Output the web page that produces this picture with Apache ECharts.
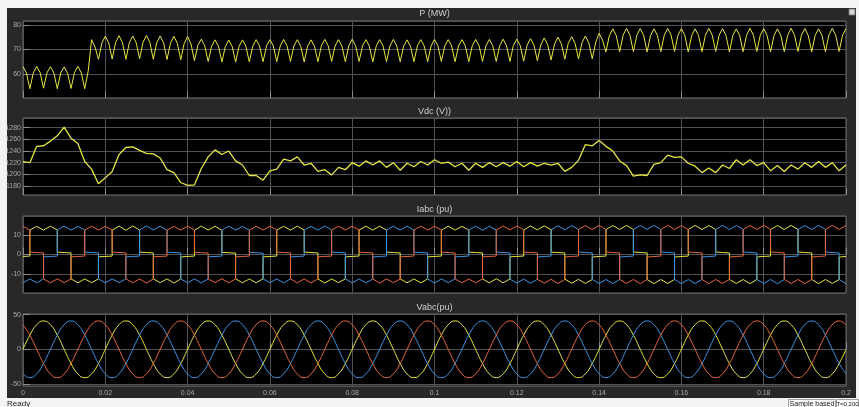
<!DOCTYPE html>
<html>
<head>
<meta charset="utf-8">
<script src="https://cdn.jsdelivr.net/npm/echarts@6.0.0/dist/echarts.min.js"></script>
<style>
html, body { margin: 0; padding: 0; background: #f3f3f3; }
#chart { width: 859px; height: 407px; }
</style>
</head>
<body>
<div id="chart"></div>
<script>
// sample steps (s)
var pStep = 1 / 1200;
var vdcStep = 1 / 600;
var vabcStep = 1 / 600;
var iUnit = 1 / 1200;

// P (MW), one sample every 1/1200 s
var pMW = [
  63, 60.4, 54, 60.4, 63.1, 60.5, 54.2, 60.5, 63, 60.4, 54, 60.4, 62.9, 60.3, 54.1, 60.5, 63.1, 60.5, 54, 61, 74, 71, 66, 72.6,
  75.4, 72.7, 66.1, 72.8, 75.6, 72.8, 66, 72.7, 75.5, 72.8, 66.2, 72.9, 75.7, 72.8, 66, 72.7, 75.5, 72.6, 65.9, 72.6, 75.4, 72.5, 65.8, 72.4,
  75.3, 72.2, 65.4, 71.7, 74.2, 71.5, 65.1, 71.3, 73.9, 71.3, 64.9, 71.2, 73.8, 71.2, 64.8, 71.3, 73.9, 71.3, 64.9, 71.3, 74, 71.4, 65, 71.4,
  74, 71.4, 65, 71.4, 74.1, 71.5, 65.1, 71.4, 74, 71.3, 64.9, 71.3, 73.9, 71.3, 65, 71.4, 74.1, 71.5, 65.1, 71.4, 74, 71.4, 65, 71.4,
  74.2, 71.5, 65.1, 71.4, 74, 71.3, 64.9, 71.3, 74, 71.4, 65, 71.4, 74.1, 71.4, 65, 71.3, 73.9, 71.3, 65, 71.4, 74, 71.4, 65, 71.4,
  74.1, 71.5, 65.1, 71.4, 74, 71.4, 65, 71.4, 74, 71.4, 65, 71.5, 74.1, 71.5, 65.1, 71.5, 74.1, 71.5, 65.1, 71.5, 74.2, 71.6, 65.1, 71.6,
  74.2, 71.6, 65.2, 71.7, 74.4, 71.8, 65.4, 71.9, 74.7, 72, 65.7, 72.2, 75, 72.3, 66, 72.5, 75.2, 72.5, 66.1, 72.7, 75.5, 72.7, 66.2, 72.8,
  76.6, 73.8, 69, 75.7, 78.4, 75.7, 69.1, 75.8, 78.6, 75.8, 69.2, 75.8, 78.5, 75.7, 69, 75.7, 78.4, 75.7, 69.1, 75.8, 78.6, 75.8, 69.2, 75.8,
  78.5, 75.7, 69, 75.7, 78.4, 75.7, 69.1, 75.8, 78.6, 75.8, 69.2, 75.8, 78.5, 75.7, 69, 75.7, 78.4, 75.7, 69.1, 75.8, 78.6, 75.8, 69.2, 75.8,
  78.5, 75.7, 69, 75.7, 78.4, 75.7, 69.1, 75.8, 78.6, 75.8, 69.2, 75.8, 78.5, 75.7, 69, 75.7, 78.4, 75.7, 69.1, 75.8, 78.6, 75.8, 69.2, 75.8,
  78.5
];

// Vdc (V), one sample every 1/600 s
var vdc = [
  1222, 1220, 1248, 1249, 1257, 1266, 1281, 1262, 1253, 1222, 1209, 1184,
  1194, 1205, 1234, 1246, 1247, 1241, 1236, 1235, 1228, 1208, 1203, 1186,
  1181, 1182, 1210, 1230, 1242, 1234, 1240, 1223, 1216, 1198, 1198, 1190,
  1206, 1209, 1226, 1223, 1230, 1216, 1219, 1205, 1208, 1199, 1212, 1208,
  1220, 1214, 1223, 1216, 1223, 1212, 1220, 1207, 1219, 1213, 1222, 1216,
  1225, 1219, 1221, 1213, 1219, 1207, 1219, 1212, 1220, 1213, 1220, 1214,
  1222, 1213, 1220, 1214, 1219, 1216, 1219, 1205, 1212, 1224, 1251, 1249,
  1258, 1248, 1240, 1223, 1215, 1197, 1199, 1198, 1217, 1220, 1233, 1229,
  1230, 1219, 1214, 1203, 1211, 1203, 1216, 1210, 1225, 1216, 1225, 1215,
  1220, 1206, 1215, 1205, 1216, 1209, 1220, 1212, 1222, 1212, 1220, 1206,
  1216
];

// Iabc sample times in 1/1200 s (repeated index = vertical step)
var iTick = [
  0,
  2, 2, 4, 6, 6, 8, 10, 10, 12, 14, 14, 16, 18, 18, 20, 22, 22, 24,
  26, 26, 28, 30, 30, 32, 34, 34, 36, 38, 38, 40, 42, 42, 44, 46, 46, 48,
  50, 50, 52, 54, 54, 56, 58, 58, 60, 62, 62, 64, 66, 66, 68, 70, 70, 72,
  74, 74, 76, 78, 78, 80, 82, 82, 84, 86, 86, 88, 90, 90, 92, 94, 94, 96,
  98, 98, 100, 102, 102, 104, 106, 106, 108, 110, 110, 112, 114, 114, 116, 118, 118, 120,
  122, 122, 124, 126, 126, 128, 130, 130, 132, 134, 134, 136, 138, 138, 140, 142, 142, 144,
  146, 146, 148, 150, 150, 152, 154, 154, 156, 158, 158, 160, 162, 162, 164, 166, 166, 168,
  170, 170, 172, 174, 174, 176, 178, 178, 180, 182, 182, 184, 186, 186, 188, 190, 190, 192,
  194, 194, 196, 198, 198, 200, 202, 202, 204, 206, 206, 208, 210, 210, 212, 214, 214, 216,
  218, 218, 220, 222, 222, 224, 226, 226, 228, 230, 230, 232, 234, 234, 236, 238, 238, 240
];

var iYellow = [
  -1.0,
  -0.8, 12.5, 14.4, 12.5, 12.5, 14.5, 12.5, 1.2, 1.0, 0.8, -12.5, -14.5, -12.5, -12.4, -14.4, -12.5, -1.2, -1.0,
  -0.8, 12.5, 14.5, 12.4, 12.4, 14.6, 12.5, 1.2, 1.0, 0.8, -12.5, -14.4, -12.5, -12.5, -14.6, -12.5, -1.3, -1.0,
  -0.8, 12.4, 14.5, 12.5, 12.5, 14.4, 12.4, 1.1, 0.9, 0.7, -12.4, -14.5, -12.5, -12.5, -14.5, -12.4, -1.2, -1.0,
  -0.8, 12.5, 14.4, 12.5, 12.5, 14.5, 12.5, 1.2, 1.0, 0.8, -12.5, -14.6, -12.5, -12.5, -14.4, -12.5, -1.2, -1.0,
  -0.8, 12.5, 14.5, 12.5, 12.5, 14.5, 12.5, 1.2, 1.0, 0.8, -12.5, -14.5, -12.5, -12.5, -14.5, -12.5, -1.2, -1.0,
  -0.8, 12.4, 14.5, 12.5, 12.5, 14.4, 12.5, 1.2, 1.0, 0.8, -12.5, -14.5, -12.4, -12.4, -14.5, -12.5, -1.2, -1.0,
  -0.8, 12.5, 14.6, 12.6, 12.6, 14.7, 12.7, 1.2, 1.0, 0.8, -12.6, -14.7, -12.7, -12.7, -14.8, -12.8, -1.3, -1.0,
  -0.8, 12.8, 14.8, 12.8, 12.8, 14.9, 12.8, 1.3, 1.0, 0.8, -12.8, -14.9, -12.8, -12.8, -14.8, -12.8, -1.3, -1.0,
  -0.8, 12.8, 14.9, 12.8, 12.8, 14.8, 12.8, 1.3, 1.0, 0.8, -12.8, -14.8, -12.8, -12.8, -14.9, -12.8, -1.3, -1.0,
  -0.8, 12.8, 14.8, 12.8, 12.8, 14.9, 12.8, 1.3, 1.0, 0.8, -12.8, -14.9, -12.8, -12.8, -14.8, -12.8, -1.3, -1.0
];

var iRed = [
  14.5,
  12.5, 1.2, 1.0, 0.8, -12.5, -14.5, -12.5, -12.5, -14.4, -12.5, -1.2, -1.0, -0.8, 12.5, 14.5, 12.5, 12.5, 14.4,
  12.5, 1.2, 1.0, 0.8, -12.4, -14.5, -12.5, -12.5, -14.6, -12.5, -1.2, -1.0, -0.8, 12.5, 14.4, 12.5, 12.4, 14.5,
  12.5, 1.1, 0.9, 0.7, -12.5, -14.4, -12.4, -12.4, -14.5, -12.5, -1.2, -1.0, -0.8, 12.4, 14.5, 12.5, 12.5, 14.5,
  12.5, 1.2, 1.0, 0.8, -12.5, -14.5, -12.5, -12.5, -14.5, -12.5, -1.2, -1.0, -0.8, 12.5, 14.5, 12.5, 12.5, 14.4,
  12.5, 1.2, 1.0, 0.8, -12.5, -14.6, -12.5, -12.5, -14.4, -12.5, -1.2, -1.0, -0.8, 12.5, 14.5, 12.5, 12.5, 14.5,
  12.5, 1.2, 1.0, 0.8, -12.5, -14.5, -12.5, -12.5, -14.5, -12.5, -1.2, -1.0, -0.8, 12.5, 14.6, 12.6, 12.6, 14.6,
  12.6, 1.2, 1.0, 0.8, -12.7, -14.7, -12.7, -12.7, -14.8, -12.8, -1.3, -1.0, -0.8, 12.8, 14.8, 12.8, 12.8, 14.9,
  12.8, 1.3, 1.0, 0.8, -12.8, -14.8, -12.8, -12.8, -14.9, -12.8, -1.3, -1.0, -0.8, 12.8, 14.9, 12.8, 12.8, 14.8,
  12.8, 1.3, 1.0, 0.8, -12.8, -14.9, -12.8, -12.8, -14.8, -12.8, -1.3, -1.0, -0.8, 12.8, 14.8, 12.8, 12.8, 14.9,
  12.8, 1.3, 1.0, 0.8, -12.8, -14.8, -12.8, -12.8, -14.9, -12.8, -1.3, -1.0, -0.8, 12.8, 14.9, 12.8, 12.8, 14.8
];

var iBlue = [
  -14.5,
  -12.5, -12.5, -14.5, -12.5, -1.2, -1.0, -0.8, 12.5, 14.5, 12.5, 12.5, 14.4, 12.5, 1.2, 1.0, 0.8, -12.5, -14.5,
  -12.5, -12.5, -14.4, -12.5, -1.2, -1.0, -0.8, 12.5, 14.6, 12.5, 12.5, 14.5, 12.4, 1.2, 1.0, 0.8, -12.5, -14.5,
  -12.5, -12.4, -14.5, -12.5, -1.2, -1.0, -0.8, 12.4, 14.5, 12.5, 12.5, 14.4, 12.5, 1.1, 0.9, 0.7, -12.5, -14.4,
  -12.5, -12.5, -14.5, -12.5, -1.2, -1.0, -0.8, 12.5, 14.4, 12.5, 12.5, 14.6, 12.5, 1.2, 1.0, 0.8, -12.5, -14.5,
  -12.5, -12.5, -14.5, -12.5, -1.2, -1.0, -0.8, 12.5, 14.5, 12.5, 12.5, 14.5, 12.5, 1.2, 1.0, 0.8, -12.5, -14.6,
  -12.5, -12.5, -14.4, -12.5, -1.2, -1.0, -0.8, 12.5, 14.5, 12.4, 12.4, 14.5, 12.5, 1.2, 1.0, 0.8, -12.6, -14.6,
  -12.6, -12.6, -14.7, -12.7, -1.3, -1.0, -0.8, 12.6, 14.7, 12.7, 12.7, 14.8, 12.8, 1.3, 1.0, 0.8, -12.8, -14.8,
  -12.8, -12.8, -14.9, -12.8, -1.3, -1.0, -0.8, 12.8, 14.8, 12.8, 12.8, 14.9, 12.8, 1.3, 1.0, 0.8, -12.8, -14.9,
  -12.8, -12.8, -14.8, -12.8, -1.3, -1.0, -0.8, 12.8, 14.9, 12.8, 12.8, 14.8, 12.8, 1.3, 1.0, 0.8, -12.8, -14.8,
  -12.8, -12.8, -14.9, -12.8, -1.3, -1.0, -0.8, 12.8, 14.8, 12.8, 12.8, 14.9, 12.8, 1.3, 1.0, 0.8, -12.8, -14.9
];

// Vabc (pu), one sample every 1/600 s
var vYellow = [
  0, 20.5, 35.5, 41, 35.5, 20.5, 0, -20.5, -35.5, -41, -35.5, -20.5,
  0, 20.5, 35.5, 41, 35.5, 20.5, 0, -20.5, -35.5, -41, -35.5, -20.5,
  0, 20.5, 35.5, 41, 35.5, 20.5, 0, -20.5, -35.5, -41, -35.5, -20.5,
  0, 20.5, 35.5, 41, 35.5, 20.5, 0, -20.5, -35.5, -41, -35.5, -20.5,
  0, 20.5, 35.5, 41, 35.5, 20.5, 0, -20.5, -35.5, -41, -35.5, -20.5,
  0, 20.5, 35.5, 41, 35.5, 20.5, 0, -20.5, -35.5, -41, -35.5, -20.5,
  0, 20.5, 35.5, 41, 35.5, 20.5, 0, -20.5, -35.5, -41, -35.5, -20.5,
  0, 20.5, 35.5, 41, 35.5, 20.5, 0, -20.5, -35.5, -41, -35.5, -20.5,
  0, 20.5, 35.5, 41, 35.5, 20.5, 0, -20.5, -35.5, -41, -35.5, -20.5,
  0, 20.5, 35.5, 41, 35.5, 20.5, 0, -20.5, -35.5, -41, -35.5, -20.5,
  0
];
var vRed = [
  35.5, 20.5, 0, -20.5, -35.5, -41, -35.5, -20.5, 0, 20.5, 35.5, 41,
  35.5, 20.5, 0, -20.5, -35.5, -41, -35.5, -20.5, 0, 20.5, 35.5, 41,
  35.5, 20.5, 0, -20.5, -35.5, -41, -35.5, -20.5, 0, 20.5, 35.5, 41,
  35.5, 20.5, 0, -20.5, -35.5, -41, -35.5, -20.5, 0, 20.5, 35.5, 41,
  35.5, 20.5, 0, -20.5, -35.5, -41, -35.5, -20.5, 0, 20.5, 35.5, 41,
  35.5, 20.5, 0, -20.5, -35.5, -41, -35.5, -20.5, 0, 20.5, 35.5, 41,
  35.5, 20.5, 0, -20.5, -35.5, -41, -35.5, -20.5, 0, 20.5, 35.5, 41,
  35.5, 20.5, 0, -20.5, -35.5, -41, -35.5, -20.5, 0, 20.5, 35.5, 41,
  35.5, 20.5, 0, -20.5, -35.5, -41, -35.5, -20.5, 0, 20.5, 35.5, 41,
  35.5, 20.5, 0, -20.5, -35.5, -41, -35.5, -20.5, 0, 20.5, 35.5, 41,
  35.5
];
var vBlue = [
  -35.5, -41, -35.5, -20.5, 0, 20.5, 35.5, 41, 35.5, 20.5, 0, -20.5,
  -35.5, -41, -35.5, -20.5, 0, 20.5, 35.5, 41, 35.5, 20.5, 0, -20.5,
  -35.5, -41, -35.5, -20.5, 0, 20.5, 35.5, 41, 35.5, 20.5, 0, -20.5,
  -35.5, -41, -35.5, -20.5, 0, 20.5, 35.5, 41, 35.5, 20.5, 0, -20.5,
  -35.5, -41, -35.5, -20.5, 0, 20.5, 35.5, 41, 35.5, 20.5, 0, -20.5,
  -35.5, -41, -35.5, -20.5, 0, 20.5, 35.5, 41, 35.5, 20.5, 0, -20.5,
  -35.5, -41, -35.5, -20.5, 0, 20.5, 35.5, 41, 35.5, 20.5, 0, -20.5,
  -35.5, -41, -35.5, -20.5, 0, 20.5, 35.5, 41, 35.5, 20.5, 0, -20.5,
  -35.5, -41, -35.5, -20.5, 0, 20.5, 35.5, 41, 35.5, 20.5, 0, -20.5,
  -35.5, -41, -35.5, -20.5, 0, 20.5, 35.5, 41, 35.5, 20.5, 0, -20.5,
  -35.5
];

var titles = ['P (MW)', 'Vdc (V))', 'Iabc (pu)', 'Vabc(pu)'];
var titleY = [14, 112, 209.5, 307.5];
var gridTop = [21, 118, 216, 314];
var gridHeight = [77, 77, 77, 72];
var yMin = [50.2, 1164.6, -19.7, -53];
var yMax = [81.6, 1296.6, 19.7, 51];
var ySplit = [3, 6, 4, 2];

var YELLOW = '#e6e640', BLUE = '#3a96e6', RED = '#e8683a';
var LABEL = '#a8a8a8', GRIDLINE = '#525252';

function uniform(vals, step) {
  return vals.map(function (v, i) { return [i * step, v]; });
}
function stepped(ticks, vals) {
  return ticks.map(function (k, i) { return [k * iUnit, vals[i]]; });
}
function line(data, color, axis, width, smooth) {
  return {
    type: 'line', data: data, xAxisIndex: axis, yAxisIndex: axis,
    showSymbol: false, smooth: !!smooth, silent: true,
    lineStyle: {color: color, width: width || 1}
  };
}

var grids = [], xAxes = [], yAxes = [], graphics = [];
for (var i = 0; i < 4; i++) {
  grids.push({
    left: 23, right: 13, top: gridTop[i], height: gridHeight[i],
    show: true, backgroundColor: '#000', borderColor: '#6e6e6e', borderWidth: 1
  });
  xAxes.push({
    type: 'value', gridIndex: i, min: 0, max: 0.2, interval: 0.02,
    axisLine: {show: false},
    axisTick: {show: true, inside: true, length: 7, lineStyle: {color: '#8c8c8c'}},
    splitLine: {show: true, lineStyle: {color: GRIDLINE, width: 1}},
    axisLabel: {show: i === 3, color: LABEL, fontSize: 7, margin: 4, fontFamily: 'Liberation Sans'}
  });
  yAxes.push({
    type: 'value', gridIndex: i, min: yMin[i], max: yMax[i], splitNumber: ySplit[i],
    axisLine: {show: false},
    axisTick: {show: true, inside: true, length: 7, lineStyle: {color: '#8c8c8c'}},
    splitLine: {show: true, lineStyle: {color: GRIDLINE, width: 1}},
    axisLabel: {color: LABEL, fontSize: 7, margin: 2, showMinLabel: false, showMaxLabel: false,
      fontFamily: 'Liberation Sans', formatter: function (v) { return String(v); }}
  });
  graphics.push({
    type: 'text', x: 434.5, y: titleY[i], silent: true,
    style: {text: titles[i], fill: '#cfcfcf', font: '9px "Liberation Sans"', align: 'center', verticalAlign: 'middle'}
  });
}

// window frame and status bar
graphics.unshift({type: 'rect', z: -10, shape: {x: 7, y: 8, width: 849, height: 390}, style: {fill: '#282828'}});
graphics.push(
  {type: 'rect', shape: {x: 849, y: 9, width: 6, height: 6}, style: {fill: '#d8d8d8', stroke: '#777', lineWidth: 1}},
  {type: 'text', x: 7, y: 404, style: {text: 'Ready', fill: '#222', font: '8px "Liberation Sans"', verticalAlign: 'middle'}},
  {type: 'rect', shape: {x: 788.5, y: 399.5, width: 47, height: 9}, style: {fill: '#fafafa', stroke: '#a0a0a0', lineWidth: 1}},
  {type: 'text', x: 812, y: 404.5, style: {text: 'Sample based', fill: '#222', font: '7px "Liberation Sans"', align: 'center', verticalAlign: 'middle'}},
  {type: 'rect', shape: {x: 836.5, y: 399.5, width: 22, height: 9}, style: {fill: '#fafafa', stroke: '#a0a0a0', lineWidth: 1}},
  {type: 'text', x: 847.5, y: 404.5, style: {text: 'T=0.200', fill: '#222', font: '6px "Liberation Sans"', align: 'center', verticalAlign: 'middle'}}
);

var chart = echarts.init(document.getElementById('chart'), null, {renderer: 'canvas'});
chart.setOption({
  animation: false,
  backgroundColor: '#f3f3f3',
  grid: grids,
  xAxis: xAxes,
  yAxis: yAxes,
  graphic: graphics,
  series: [
    line(uniform(pMW, pStep), YELLOW, 0, 1),
    line(uniform(vdc, vdcStep), YELLOW, 1, 1.3),
    line(stepped(iTick, iYellow), YELLOW, 2, 1),
    line(stepped(iTick, iBlue), BLUE, 2, 1),
    line(stepped(iTick, iRed), RED, 2, 1),
    line(uniform(vYellow, vabcStep), YELLOW, 3, 1, true),
    line(uniform(vBlue, vabcStep), BLUE, 3, 1, true),
    line(uniform(vRed, vabcStep), RED, 3, 1, true)
  ]
});
</script>
</body>
</html>
